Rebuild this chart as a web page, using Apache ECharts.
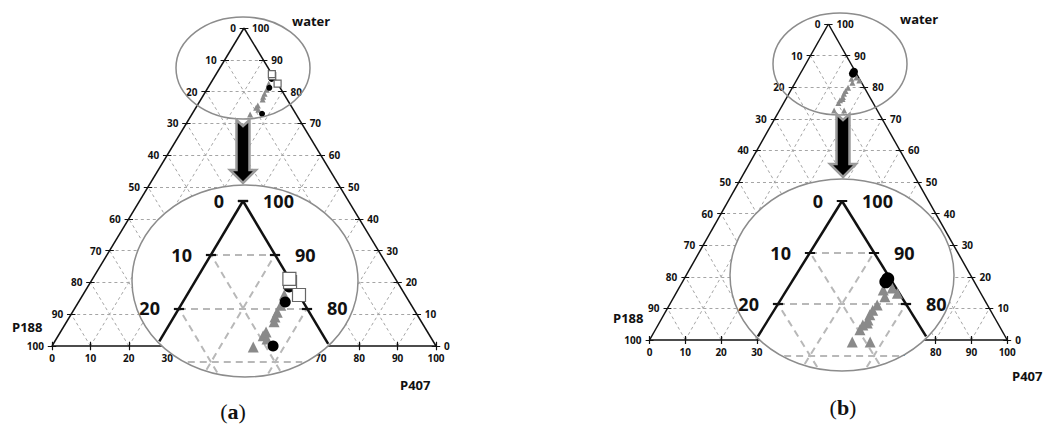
<!DOCTYPE html>
<html>
<head>
<meta charset="utf-8">
<title>ternary water / P188 / P407</title>
<script src="https://cdn.jsdelivr.net/npm/echarts@6/dist/echarts.min.js"></script>
<style>
html,body{margin:0;padding:0;background:#fff;}
#main{width:1043px;height:432px;}
</style>
</head>
<body>
<div id="main"></div>
<script>
// composition in %
var tickValues = [0, 10, 20, 30, 40, 50, 60, 70, 80, 90, 100];

// panel (a)
var aSquareWater = [84.9, 85.5, 82.5];
var aSquareP188 = [0.2, 0, 0];
var aSquareP407 = [14.9, 14.5, 17.5];
var aCircleWater = [84.0, 81.2, 73.0];
var aCircleP188 = [0.8, 2.8, 8.8];
var aCircleP407 = [15.2, 16.0, 18.2];
var aTriWater = [82.5, 80.6, 79.3, 78.4, 77.5, 75.6, 74.9, 74.3, 72.8];
var aTriP188 = [2.3, 3.8, 5.0, 5.8, 6.4, 8.6, 9.4, 9.1, 12.0];
var aTriP407 = [15.2, 15.6, 15.7, 15.8, 16.1, 15.8, 15.7, 16.6, 15.2];

// panel (b)
var bCircleWater = [84.9, 84.3];
var bCircleP188 = [0.4, 1.0];
var bCircleP407 = [14.7, 14.7];
var bTriWater = [82.7, 83.1, 82.1, 81.4, 79.8, 78.8, 77.9, 76.9, 76.3, 75.9, 75.0, 72.6, 72.6];
var bTriP188 = [2.2, 0.6, 0.3, 2.6, 4.6, 5.8, 6.7, 7.5, 7.9, 8.8, 9.7, 12.1, 9.3];
var bTriP407 = [15.1, 16.3, 17.6, 16.0, 15.6, 15.4, 15.4, 15.6, 15.8, 15.3, 15.3, 15.3, 18.1];

// page layout of the two panels (pixels)
var panels = [
	{x0: 52, y0: 346, w: 384, h: 318,
	 zx: 243, zy: 201, zux: 6.4, zuy: 5.37,
	 topEl: [243, 68, 67, 51], bigEl: [245, 281, 113, 96],
	 arrow: [243, 120, 183],
	 water: [292, 23], p188: [12, 329], p407: [400, 387], tag: [233, 411], letter: 'a',
	 circleSize: [6, 11]},
	{x0: 652, y0: 340, w: 382, h: 316,
	 zx: 842, zy: 201, zux: 6.4, zuy: 5.15,
	 topEl: [840, 64, 67, 51], bigEl: [842, 275, 112, 96],
	 arrow: [843, 114, 177],
	 water: [900, 21], p188: [613, 320], p407: [1012, 378], tag: [843, 407], letter: 'b',
	 circleSize: [8, 13]}
];

function tern(w, p188, p407) {
	var s = w + p188 + p407;
	return [(p407 + w / 2) / s * 100, w / s * 100];
}
function points(ws, p188s, p407s) {
	var out = [];
	for (var i = 0; i < ws.length; i++) {
		out.push(tern(ws[i], p188s[i], p407s[i]));
	}
	return out;
}

function lattice() {
	var out = [];
	for (var i = 1; i < tickValues.length - 1; i++) {
		var k = tickValues[i];
		out.push([[k / 2, k], [100 - k / 2, k]]);
		out.push([[k, 0], [k + (100 - k) / 2, 100 - k]]);
		out.push([[100 - k, 0], [(100 - k) / 2, 100 - k]]);
	}
	return out;
}
function edges() {
	return [[[0, 0], [50, 100]], [[50, 100], [100, 0]], [[0, 0], [100, 0]]];
}

// ellipse given in pixels -> data units of the zoom grid
function elInData(p, el, shrink) {
	return {
		cx: 50 + (el[0] - p.zx) / p.zux,
		cy: 100 - (el[1] - p.zy) / p.zuy,
		rx: (el[2] - shrink) / p.zux,
		ry: (el[3] - shrink) / p.zuy
	};
}
function inside(pt, e) {
	var a = (pt[0] - e.cx) / e.rx, b = (pt[1] - e.cy) / e.ry;
	return a * a + b * b < 1;
}
function clipSeg(s, e) {
	var p1 = s[0], p2 = s[1];
	var dx = p2[0] - p1[0], dy = p2[1] - p1[1];
	var ox = (p1[0] - e.cx) / e.rx, oy = (p1[1] - e.cy) / e.ry;
	var vx = dx / e.rx, vy = dy / e.ry;
	var A = vx * vx + vy * vy, B = 2 * (ox * vx + oy * vy), C = ox * ox + oy * oy - 1;
	var D = B * B - 4 * A * C;
	if (D <= 0) return null;
	var t1 = Math.max((-B - Math.sqrt(D)) / (2 * A), 0);
	var t2 = Math.min((-B + Math.sqrt(D)) / (2 * A), 1);
	if (t1 >= t2) return null;
	return [[p1[0] + t1 * dx, p1[1] + t1 * dy], [p1[0] + t2 * dx, p1[1] + t2 * dy]];
}
function clipAll(segs, e) {
	var out = [];
	for (var i = 0; i < segs.length; i++) {
		var c = clipSeg(segs[i], e);
		if (c) out.push(c);
	}
	return out;
}

function linesSeries(gi, segs, color, width, type, z) {
	return {
		type: 'lines', coordinateSystem: 'cartesian2d', xAxisIndex: gi, yAxisIndex: gi,
		silent: true, z: z, polyline: false,
		data: segs.map(function (s) { return {coords: s}; }),
		lineStyle: {color: color, width: width, type: type, opacity: 1, cap: 'butt'}
	};
}
// tick labels hang off an almost invisible point (opacity 1, scatter default is 0.8)
function labelSeries(gi, data, pos, dist, size, z) {
	return {
		type: 'scatter', xAxisIndex: gi, yAxisIndex: gi, silent: true, z: z,
		data: data, symbol: 'circle', symbolSize: 0.1, itemStyle: {color: '#111', opacity: 1},
		label: {
			show: true, position: pos, distance: dist,
			formatter: function (p) { return p.value[2]; },
			fontFamily: 'Open Sans', fontWeight: 'bold', fontSize: size, color: '#111'
		}
	};
}
function markSeries(gi, data, symbol, size, fill, border, z) {
	return {
		type: 'scatter', xAxisIndex: gi, yAxisIndex: gi, silent: true, z: z,
		data: data, symbol: symbol, symbolSize: size,
		itemStyle: {color: fill, borderColor: border, borderWidth: border ? 1.2 : 0, opacity: 1}
	};
}

var grids = [], xAxes = [], yAxes = [], series = [], graphics = [];

for (var pi = 0; pi < panels.length; pi++) {
	var p = panels[pi];
	var ux = p.w / 100, uy = p.h / 100;
	var gBig = pi * 2, gZoom = pi * 2 + 1;

	grids.push({left: p.x0 - 10 * ux, top: p.y0 - p.h - 5 * uy, width: 120 * ux, height: 115 * uy});
	xAxes.push({type: 'value', gridIndex: gBig, min: -10, max: 110, show: false});
	yAxes.push({type: 'value', gridIndex: gBig, min: -10, max: 105, show: false});

	grids.push({left: p.zx - 30 * p.zux, top: p.zy - 5 * p.zuy, width: 60 * p.zux, height: 45 * p.zuy});
	xAxes.push({type: 'value', gridIndex: gZoom, min: 20, max: 80, show: false});
	yAxes.push({type: 'value', gridIndex: gZoom, min: 60, max: 105, show: false});

	var sq, ci, tr;
	if (p.letter == 'a') {
		sq = points(aSquareWater, aSquareP188, aSquareP407);
		ci = points(aCircleWater, aCircleP188, aCircleP407);
		tr = points(aTriWater, aTriP188, aTriP407);
	} else {
		sq = [];
		ci = points(bCircleWater, bCircleP188, bCircleP407);
		tr = points(bTriWater, bTriP188, bTriP407);
	}

	// big triangle
	var ticks = [], leftLab = [], rightLab = [], botLab = [];
	for (var i = 0; i < tickValues.length; i++) {
		var k = tickValues[i];
		ticks.push([[(100 - k) / 2 - 1.1, 100 - k], [(100 - k) / 2 + 1.1, 100 - k]]);
		ticks.push([[100 - k / 2 - 1.1, k], [100 - k / 2 + 1.1, k]]);
		ticks.push([[k, -1.3], [k, 1.3]]);
		leftLab.push([(100 - k) / 2, 100 - k, String(k)]);
		rightLab.push([100 - k / 2, k, String(k)]);
		botLab.push([k, 0, String(k)]);
	}
	series.push(linesSeries(gBig, lattice(), '#a5a5a5', 1, [3, 3], 1));
	series.push(linesSeries(gBig, edges(), '#111', 1.5, 'solid', 2));
	series.push(linesSeries(gBig, ticks, '#111', 1.2, 'solid', 2));
	series.push(labelSeries(gBig, leftLab, 'left', 8, 10, 3));
	series.push(labelSeries(gBig, rightLab, 'right', 8, 10, 3));
	series.push(labelSeries(gBig, botLab, 'bottom', 7, 10, 3));
	series.push(markSeries(gBig, tr, 'triangle', 6, '#8a8a8a', null, 4));
	series.push(markSeries(gBig, ci, 'circle', p.circleSize[0], '#000', null, 4));
	if (sq.length) series.push(markSeries(gBig, sq, 'rect', 7, '#fff', '#666', 4));

	// magnified view inside the big ellipse
	var e = elInData(p, p.bigEl, 1.5);
	var zt = [], zl = [], zr = [];
	for (var j = 0; j < tickValues.length; j++) {
		var kk = tickValues[j];
		var wl = 100 - kk;
		if (inside([wl / 2, wl], e)) {
			zt.push([[wl / 2 - 0.8, wl], [wl / 2 + 0.8, wl]]);
			zl.push([wl / 2, wl, String(kk)]);
		}
		if (inside([100 - kk / 2, kk], e)) {
			zt.push([[100 - kk / 2 - 0.8, kk], [100 - kk / 2 + 0.8, kk]]);
			zr.push([100 - kk / 2, kk, String(kk)]);
		}
	}
	series.push(linesSeries(gZoom, clipAll(lattice(), e), '#b8b8b8', 2, [7, 5], 20));
	series.push(linesSeries(gZoom, clipAll(edges(), e), '#111', 2.5, 'solid', 21));
	series.push(linesSeries(gZoom, clipAll(zt, e), '#111', 2.2, 'solid', 21));
	series.push(labelSeries(gZoom, zl, 'left', 19, 18, 22));
	series.push(labelSeries(gZoom, zr, 'right', 20, 18, 22));
	series.push(markSeries(gZoom, tr, 'triangle', 11, '#8a8a8a', null, 23));
	series.push(markSeries(gZoom, ci, 'circle', p.circleSize[1], '#000', null, 24));
	if (sq.length) series.push(markSeries(gZoom, sq, 'rect', 13, '#fff', '#666', 25));

	// decorations
	graphics.push({type: 'ellipse', z: 5, silent: true,
		shape: {cx: p.topEl[0], cy: p.topEl[1], rx: p.topEl[2], ry: p.topEl[3]},
		style: {fill: 'none', stroke: '#8c8c8c', lineWidth: 1.5}});
	graphics.push({type: 'ellipse', z: 10, silent: true,
		shape: {cx: p.bigEl[0], cy: p.bigEl[1], rx: p.bigEl[2], ry: p.bigEl[3]},
		style: {fill: '#fff', stroke: '#8c8c8c', lineWidth: 1.5}});
	var ax = p.arrow[0], ay1 = p.arrow[1], ay2 = p.arrow[2];
	graphics.push({type: 'polygon', z: 6, silent: true,
		shape: {points: [[ax - 6.5, ay1], [ax, ay1 + 6], [ax + 6.5, ay1], [ax + 6.5, ay2 - 13],
			[ax + 13, ay2 - 13], [ax, ay2], [ax - 13, ay2 - 13], [ax - 6.5, ay2 - 13]]},
		style: {fill: '#000', stroke: '#9a9a9a', lineWidth: 2.5}});

	var tf = {fontFamily: 'Open Sans', fontWeight: 'bold', fontSize: 13, fill: '#111'};
	graphics.push({type: 'text', z: 30, left: p.water[0], top: p.water[1] - 9, style: echarts.util.extend({text: 'water'}, tf)});
	graphics.push({type: 'text', z: 30, left: p.p188[0], top: p.p188[1] - 9, style: echarts.util.extend({text: 'P188'}, tf)});
	graphics.push({type: 'text', z: 30, left: p.p407[0], top: p.p407[1] - 9, style: echarts.util.extend({text: 'P407'}, tf)});
	graphics.push({type: 'text', z: 30, x: p.tag[0], y: p.tag[1], silent: true,
		style: {text: '({l|' + p.letter + '})', x: 0, y: 0, align: 'center', verticalAlign: 'middle',
			fontFamily: 'Liberation Serif', fontSize: 22, fill: '#111',
			rich: {l: {fontFamily: 'Liberation Serif', fontWeight: 'bold', fontSize: 22, fill: '#111'}}}});
}

var chart = echarts.init(document.getElementById('main'), null, {renderer: 'svg'});
chart.setOption({
	animation: false,
	backgroundColor: '#fff',
	grid: grids,
	xAxis: xAxes,
	yAxis: yAxes,
	graphic: {elements: graphics},
	series: series
});
</script>
</body>
</html>
